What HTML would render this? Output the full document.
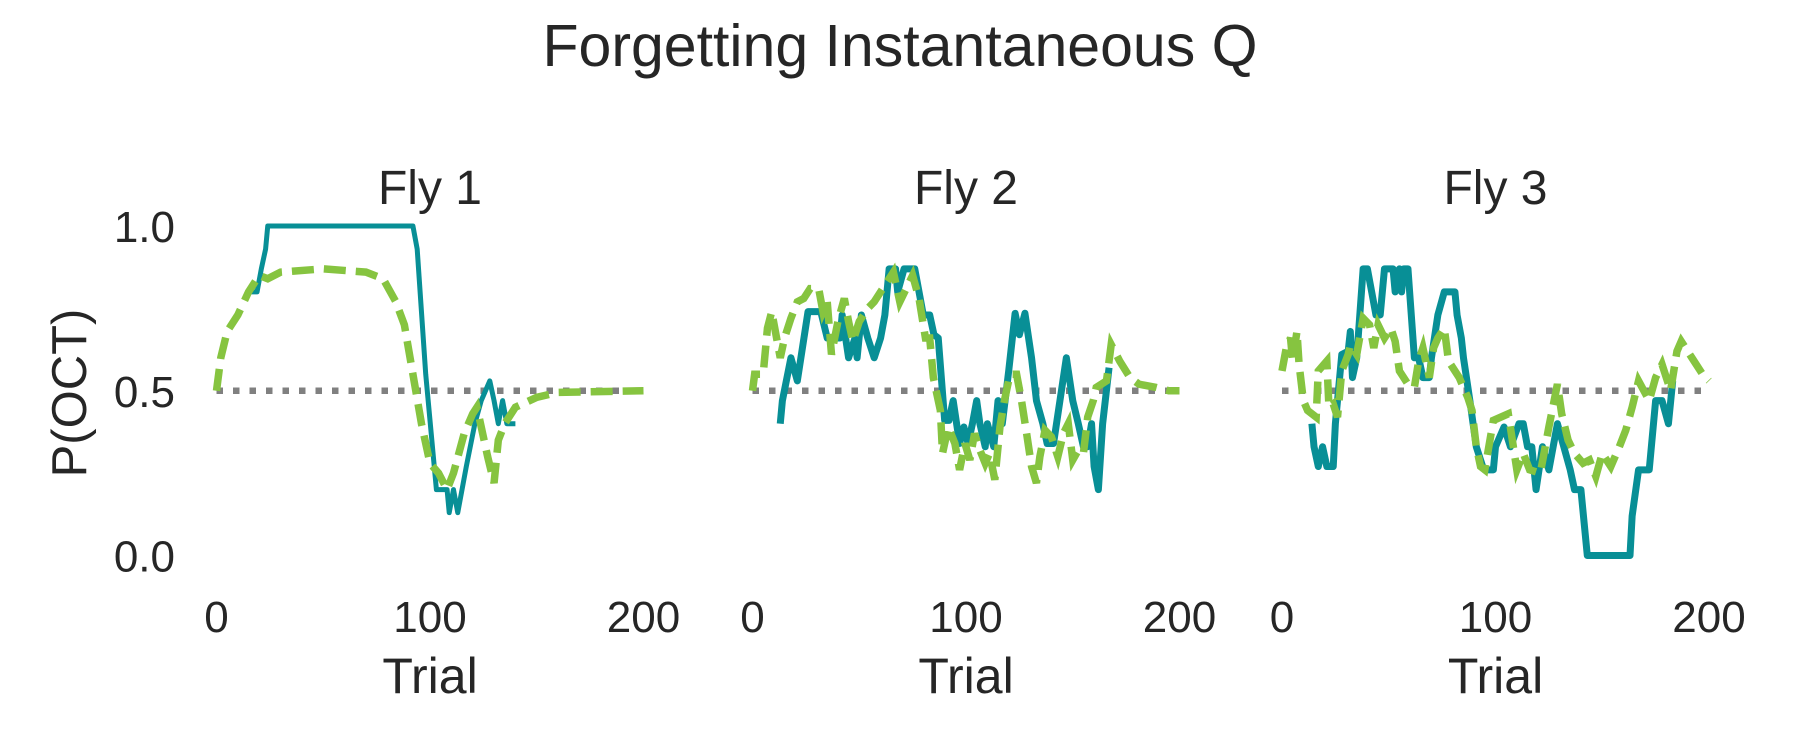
<!DOCTYPE html>
<html><head><meta charset="utf-8"><style>
body{margin:0;background:#fff;}
svg{display:block;font-family:"Liberation Sans",Arial,sans-serif;}
</style></head><body>
<svg id="chart" width="1800" height="750" viewBox="0 0 1800 750">
<rect width="1800" height="750" fill="#fff"/>
<text x="900" y="66" font-size="59" text-anchor="middle" fill="#262626">Forgetting Instantaneous Q</text>
<text transform="translate(86,393) rotate(-90)" font-size="49" text-anchor="middle" fill="#262626">P(OCT)</text>
<g id="panels"></g>
</svg>
<script>
const panelTitles = ["Fly 1", "Fly 2", "Fly 3"];
const xTicks = [0, 100, 200];
const yTicks = [0.0, 0.5, 1.0];
const chanceLevel = 0.5;

const fly1TealTrials = [15,19,21,23,24,92,94,98,103,108,109,111,113,117,121,124,128,130,132,134,136,140];
const fly1TealValues = [0.80,0.80,0.87,0.93,1.0,1.0,0.93,0.55,0.2,0.2,0.13,0.2,0.13,0.27,0.4,0.47,0.53,0.47,0.4,0.47,0.4,0.4];
const fly1GreenTrials = [0,2,5,10,15,20,24,30,50,70,78,84,88,92,96,100,104,108,111,116,120,122,127,130,132,135,140,150,160,200];
const fly1GreenValues = [0.5,0.6,0.68,0.73,0.8,0.85,0.84,0.86,0.87,0.86,0.84,0.77,0.7,0.55,0.4,0.28,0.25,0.2,0.25,0.37,0.43,0.45,0.3,0.22,0.35,0.4,0.45,0.48,0.495,0.5];

const fly2TealTrials = [13,14,18,21,26,32,35,41,42,45,48,49,51,54,57,60,62,64,67,68,71,76,78,80,83,85,87,90,92,94,95.6,97,99,101,103,105,106.5,109,110,113,115,117,120,123,125,127.6,130.7,133,136,138,141,144,147,150,152.6,155,157,158.8,160,162,164,167];
const fly2TealValues = [0.40,0.47,0.60,0.53,0.74,0.74,0.66,0.66,0.73,0.60,0.66,0.60,0.73,0.66,0.60,0.66,0.73,0.87,0.87,0.80,0.87,0.87,0.80,0.73,0.73,0.67,0.66,0.41,0.41,0.47,0.40,0.34,0.39,0.34,0.40,0.47,0.40,0.33,0.40,0.33,0.47,0.40,0.56,0.735,0.67,0.735,0.60,0.47,0.40,0.34,0.34,0.47,0.60,0.47,0.40,0.33,0.33,0.40,0.27,0.20,0.40,0.57];
const fly2GreenTrials = [0,1,5,7,9,13,15,18,21,24,27,31,33,35,37,40,43,45,47,50,54,57,61,64,66,69,72,75,78,81,83,84.7,88,89,91.7,94.8,97,99.5,101.8,104,106.5,109,111,113.5,115.9,118,120.6,123.7,126,128.4,130.7,133,134.6,137,140,143,145.6,147.9,150,152.6,155,157,159.6,161,165.8,168,172,176.8,181,189,195,200];
const fly2GreenValues = [0.5,0.55,0.55,0.69,0.74,0.6,0.66,0.72,0.77,0.78,0.81,0.81,0.74,0.77,0.61,0.71,0.78,0.71,0.65,0.71,0.75,0.77,0.81,0.84,0.86,0.77,0.81,0.85,0.78,0.66,0.66,0.54,0.44,0.31,0.39,0.34,0.26,0.34,0.29,0.37,0.32,0.28,0.31,0.23,0.39,0.47,0.55,0.55,0.47,0.37,0.27,0.22,0.30,0.38,0.36,0.30,0.37,0.40,0.29,0.32,0.31,0.42,0.47,0.51,0.53,0.64,0.59,0.54,0.52,0.51,0.50,0.50];

const fly3TealTrials = [14,15,17,19,21,24,25,28,31,32,33,35,38,40,42,44,46,48,52,53,55,56,57,59,62,64,66,69,70,73,76,81,82,84,85,88,91,94,95,99,100,104,107,111,113,115,117,119,122,125,129,132,135,137,140,143,163,164,167,172,175,178,181,183];
const fly3TealValues = [0.40,0.33,0.27,0.33,0.27,0.27,0.40,0.61,0.62,0.68,0.54,0.60,0.87,0.87,0.80,0.73,0.73,0.87,0.87,0.80,0.87,0.80,0.87,0.87,0.60,0.60,0.54,0.54,0.60,0.73,0.80,0.80,0.73,0.66,0.60,0.47,0.33,0.27,0.26,0.26,0.33,0.39,0.33,0.40,0.40,0.33,0.33,0.20,0.33,0.26,0.40,0.33,0.26,0.20,0.20,0.0,0.0,0.12,0.26,0.26,0.47,0.47,0.40,0.53];
const fly3GreenTrials = [0,2,4,5,7,8,10,12,16,17,21,22,24,26,28,31,32,35,38,41,43,45,48,51,53,55,59,62,64,66,69,71,73,76,78,83,87,89,91,93,95,99,106,110,113,116,121,125,129,131,134,137,141,144,147,150,154,158,161,164,167,172,175,178,182,185,187,192,197,200];
const fly3GreenValues = [0.56,0.63,0.66,0.59,0.68,0.58,0.47,0.44,0.42,0.56,0.59,0.45,0.46,0.42,0.56,0.61,0.64,0.61,0.72,0.70,0.63,0.70,0.66,0.69,0.65,0.56,0.52,0.51,0.59,0.63,0.54,0.63,0.66,0.69,0.59,0.54,0.48,0.44,0.33,0.27,0.26,0.41,0.43,0.26,0.31,0.26,0.25,0.39,0.52,0.43,0.35,0.31,0.28,0.29,0.24,0.31,0.27,0.33,0.38,0.45,0.53,0.47,0.54,0.58,0.50,0.62,0.65,0.60,0.55,0.53];

const tealSeries = [[fly1TealTrials, fly1TealValues],[fly2TealTrials, fly2TealValues],[fly3TealTrials, fly3TealValues]];
const greenSeries = [[fly1GreenTrials, fly1GreenValues],[fly2GreenTrials, fly2GreenValues],[fly3GreenTrials, fly3GreenValues]];

const NS = "http://www.w3.org/2000/svg";
const panelLeft = [216.5, 752.5, 1282];
const plotW = 427, yTop = 226, yBottom = 555.5;
const g = document.getElementById("panels");
function mk(tag, attrs, parent){const e=document.createElementNS(NS,tag);for(const k in attrs)e.setAttribute(k,attrs[k]);parent.appendChild(e);return e;}

panelTitles.forEach((title, i) => {
  const x0 = panelLeft[i];
  const xs = t => x0 + t / 200 * plotW;
  const ys = v => yBottom - v * (yBottom - yTop);
  const pg = mk("g", {}, g);
  
  
  const tt = mk("text", {x: xs(100), y: 204, "font-size": 48, "text-anchor": "middle", fill: "#262626"}, pg);
  tt.textContent = title;
  
  
  xTicks.forEach(t => {
    const e = mk("text", {x: xs(t), y: 632, "font-size": 44, "text-anchor": "middle", fill: "#262626"}, pg);
    e.textContent = t;
    
    
  });
  const xl = mk("text", {x: xs(100), y: 693, "font-size": 50, "text-anchor": "middle", fill: "#262626"}, pg);
  xl.textContent = "Trial";
  
  
  if (i === 0) {
    yTicks.forEach(v => {
      const e = mk("text", {x: 175, y: ys(v) + 16, "font-size": 44, "text-anchor": "end", fill: "#262626"}, pg);
      e.textContent = v.toFixed(1);
      
      
    });
  }
  const ch = mk("line", {x1: xs(0), x2: xs(200), y1: ys(chanceLevel), y2: ys(chanceLevel), stroke: "#808080", "stroke-width": 6.5, "stroke-dasharray": "6.5 10"}, pg);
  
  
  const [tt2, tv] = tealSeries[i];
  const tp = mk("polyline", {points: tt2.map((t,k)=>xs(t)+","+ys(tv[k])).join(" "), fill: "none", stroke: "#088f96", "stroke-width": i === 0 ? 5 : 7, "stroke-linejoin": "round"}, pg);
  
  
  const [gt, gv] = greenSeries[i];
  const gp = mk("polyline", {points: gt.map((t,k)=>xs(t)+","+ys(gv[k])).join(" "), fill: "none", stroke: "#86c440", "stroke-width": 7.5, "stroke-dasharray": "22 10"}, pg);
  
  
});
</script>
</body></html>
